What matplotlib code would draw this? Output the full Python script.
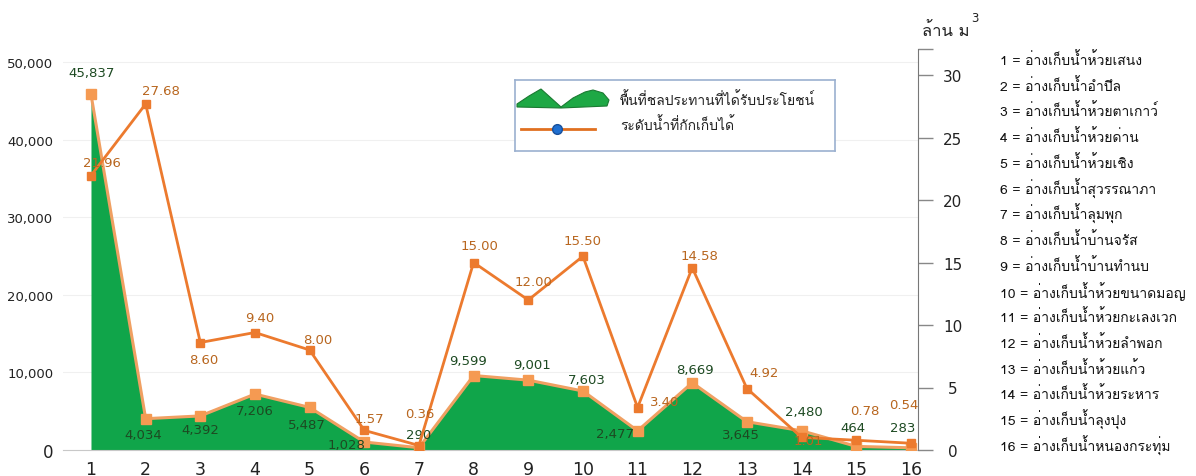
import matplotlib
matplotlib.use("Agg")
import matplotlib.pyplot as plt
from matplotlib.patches import Polygon
from matplotlib.lines import Line2D

THAI = ["Loma", "Noto Sans Thai Looped", "DejaVu Sans"]

# data
reservoir_no = list(range(1, 17))
irrigated_area = [45837, 4034, 4392, 7206, 5487, 1028, 290, 9599,
                  9001, 7603, 2477, 8669, 3645, 2480, 464, 283]
storage = [21.96, 27.68, 8.60, 9.40, 8.00, 1.57, 0.36, 15.00,
           12.00, 15.50, 3.40, 14.58, 4.92, 1.01, 0.78, 0.54]
reservoir_names = [
    "อ่างเก็บน้ำห้วยเสนง", "อ่างเก็บน้ำอำปึล", "อ่างเก็บน้ำห้วยตาเกาว์",
    "อ่างเก็บน้ำห้วยด่าน", "อ่างเก็บน้ำห้วยเชิง", "อ่างเก็บน้ำสุวรรณาภา",
    "อ่างเก็บน้ำลุมพุก", "อ่างเก็บน้ำบ้านจรัส", "อ่างเก็บน้ำบ้านทำนบ",
    "อ่างเก็บน้ำห้วยขนาดมอญ", "อ่างเก็บน้ำห้วยกะเลงเวก", "อ่างเก็บน้ำห้วยลำพอก",
    "อ่างเก็บน้ำห้วยแก้ว", "อ่างเก็บน้ำห้วยระหาร", "อ่างเก็บน้ำลุงปุง",
    "อ่างเก็บน้ำหนองกระทุ่ม",
]
legend_labels = ["พื้นที่ชลประทานที่ได้รับประโยชน์", "ระดับน้ำที่กักเก็บได้"]

# label offsets in pixels (dx, dy)
area_offsets = [(1, 22), (-2, -16), (0, -14), (0, -16), (-3, -17), (-18, -2),
                (0, 13), (-6, 15), (4, 16), (4, 12), (-23, -3), (3, 13),
                (-6, -13), (2, 19), (-3, 19), (-8, 20)]
storage_offsets = [(11, 13), (15, 14), (3, -17), (5, 15), (8, 11), (5, 12),
                   (1, 32), (6, 17), (5, 19), (0, 16), (27, 6), (7, 12),
                   (17, 16), (7, -3), (9, 30), (-7, 39)]

GREEN = "#10a54a"
AREA_EDGE = "#f0a062"
ORANGE = "#ec7a2e"
GREEN_TXT = "#1d4a22"
ORANGE_TXT = "#b8661f"

W, H = 1196, 477
fig = plt.figure(figsize=(W / 100, H / 100), dpi=100)
ax1 = fig.add_axes([63 / W, 1 - 451 / H, (918 - 63) / W, 401 / H])
ax2 = ax1.twinx()

ax1.fill_between(reservoir_no, irrigated_area, 0, color=GREEN, lw=0, zorder=2)
ax1.plot(reservoir_no, irrigated_area, color=AREA_EDGE, lw=2.2, marker="s",
         ms=7, mfc="#f59a52", mec="#f59a52", zorder=3)
ax2.plot(reservoir_no, storage, color=ORANGE, lw=2, marker="s", ms=6,
         mfc=ORANGE, mec=ORANGE, zorder=4)

for x, v, off in zip(reservoir_no, irrigated_area, area_offsets):
    ax1.annotate(f"{v:,}", (x, v), xytext=off, textcoords="offset pixels",
                 ha="center", va="center", fontsize=9.5, color=GREEN_TXT, zorder=6)
for x, v, off in zip(reservoir_no, storage, storage_offsets):
    ax2.annotate(f"{v:.2f}", (x, v), xytext=off, textcoords="offset pixels",
                 ha="center", va="center", fontsize=9.5, color=ORANGE_TXT, zorder=6)

ax1.set_xlim(0.488, 16.13)
ax1.set_ylim(0, 51675)
ax2.set_ylim(0, 32.08)

ax1.set_xticks(reservoir_no)
ax1.set_xticklabels([str(n) for n in reservoir_no], fontsize=12.5, color="#222222")
ax1.tick_params(axis="x", length=0, pad=7)
ax1.set_yticks(range(0, 50001, 10000))
ax1.set_yticklabels([f"{v:,}" for v in range(0, 50001, 10000)], fontsize=9.5,
                    color="#222222")
ax1.get_yticklabels()[0].set_fontsize(12)
ax1.tick_params(axis="y", length=0, pad=7)
ax1.grid(axis="y", color="#f0f0f0", lw=0.8, zorder=0)
ax1.set_axisbelow(True)

for s in ["top", "left", "right"]:
    ax1.spines[s].set_visible(False)
ax1.spines["bottom"].set_color("#c8c8c8")

ax2.set_yticks(range(0, 31, 5))
ax2.set_yticks([32.08], minor=True)
ax2.tick_params(axis="y", which="both", length=11, width=1, color="#888888",
                labelsize=11, pad=14, labelcolor="#222222")
for lab in ax2.get_yticklabels():
    lab.set_ha("center")
for s in ["top", "left", "bottom"]:
    ax2.spines[s].set_visible(False)
ax2.spines["right"].set_color("#777777")

unit = fig.text(922 / W, 1 - 32 / H, "ล้าน ม", family=THAI, fontsize=12,
                va="center", ha="left", color="#222222")
fig.canvas.draw()
unit_right = unit.get_window_extent().x1
fig.text(unit_right / W + 2 / W, 1 - 19 / H, "3", fontsize=8.5, va="center",
         ha="left", color="#222222")

# reservoir key on the right
for i, (n, name) in enumerate(zip(reservoir_no, reservoir_names)):
    fig.text(1000 / W, 1 - (60 + i * 25.73) / H, f"{n} = {name}", family=THAI,
             fontsize=10, va="center", ha="left", color="#111111")

# legend box
lg = fig.add_axes([515 / W, 1 - 152 / H, 320 / W, 71 / H])
lg.set_xlim(0, 320)
lg.set_ylim(71, 0)
lg.set_xticks([])
lg.set_yticks([])
for s in lg.spines.values():
    s.set_color("#9bb0cf")
    s.set_linewidth(1.2)
hump = [(2, 24), (14, 16), (26, 9), (36, 18), (46, 27), (58, 18), (70, 12),
        (78, 10), (88, 13), (94, 20), (92, 26), (46, 28), (2, 27)]
lg.add_patch(Polygon(hump, closed=True, fc="#1ea845", ec="#1b7a32", lw=0.8))
lg.add_line(Line2D([6, 80], [49, 49], color="#e07020", lw=2))
lg.plot([42], [49], marker="o", ms=7, mfc="#1f6fd0", mec="#184f9a")
lg.text(105, 19, legend_labels[0], family=THAI, fontsize=10, va="center",
        color="#222222")
lg.text(105, 44, legend_labels[1], family=THAI, fontsize=10, va="center",
        color="#222222")

fig.savefig("out.png", dpi=100)
